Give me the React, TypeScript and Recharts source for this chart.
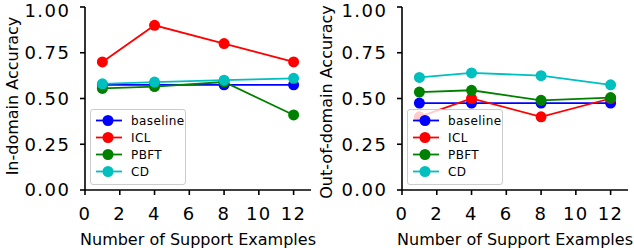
import React from 'react';
import { LineChart, Line, XAxis, YAxis, Legend, Label } from 'recharts';

const supportExamples = [1, 4, 8, 12];

// in-domain
const inBaseline = [0.575, 0.575, 0.575, 0.575];
const inICL = [0.70, 0.90, 0.80, 0.70];
const inPBFT = [0.555, 0.565, 0.59, 0.41];
const inCD = [0.58, 0.59, 0.60, 0.61];

// out-of-domain
const outBaseline = [0.475, 0.475, 0.475, 0.475];
const outICL = [0.40, 0.50, 0.40, 0.50];
const outPBFT = [0.535, 0.545, 0.49, 0.505];
const outCD = [0.615, 0.64, 0.625, 0.575];

const xTicks = [0, 2, 4, 6, 8, 10, 12];
const yTicks = [0, 0.25, 0.5, 0.75, 1];

const SERIES = [
  { key: 'baseline', color: '#0000ff' },
  { key: 'ICL', color: '#ff0000' },
  { key: 'PBFT', color: '#008000' },
  { key: 'CD', color: '#00bfbf' },
];

const FONT = 'DejaVu Sans, sans-serif';

const buildRows = (b: number[], i: number[], p: number[], c: number[]) =>
  supportExamples.map((x, idx) => ({ x, baseline: b[idx], ICL: i[idx], PBFT: p[idx], CD: c[idx] }));

const inRows = buildRows(inBaseline, inICL, inPBFT, inCD);
const outRows = buildRows(outBaseline, outICL, outPBFT, outCD);

const LegendBox = () => (
  <div style={{
    width: 94, height: 72, border: '1px solid #cccccc', borderRadius: 3,
    background: 'rgba(255,255,255,0.8)', fontFamily: FONT, fontSize: 12, paddingTop: 2, boxSizing: 'content-box'
  }}>
    {SERIES.map(s => (
      <div key={s.key} style={{ height: 17, display: 'flex', alignItems: 'center' }}>
        <svg width={40} height={17}>
          <line x1={5} x2={31} y1={8.5} y2={8.5} stroke={s.color} strokeWidth={1.8} />
          <circle cx={17} cy={8.5} r={5.5} fill={s.color} />
        </svg>
        <span style={{ color: '#000', letterSpacing: 0.4 }}>{s.key}</span>
      </div>
    ))}
  </div>
);

const YTitle = (text: string, cx: number, cy: number) => () => (
  <text x={cx} y={cy} transform={`rotate(-90, ${cx}, ${cy})`} textAnchor="middle"
    dominantBaseline="central" fontFamily={FONT} fontSize={16} fill="#000">{text}</text>
);

const tickStyle = { fill: '#000', fontSize: 18, fontFamily: FONT, letterSpacing: 1.5 };

const Panel = ({ rows, yTitle, titleX, titleY }: { rows: any[]; yTitle: string; titleX: number; titleY: number }) => (
  <LineChart width={317} height={248} data={rows} margin={{ top: 7, right: 6, bottom: 0, left: 0 }}>
    <XAxis dataKey="x" type="number" domain={[0, 13]} ticks={xTicks} height={58}
      stroke="#000" strokeWidth={1.6} tickSize={5} tickMargin={12}
      tick={tickStyle}>
      <Label value="Number of Support Examples" position="insideBottom" offset={3}
        style={{ fontFamily: FONT, fontSize: 16, fill: '#000' }} />
    </XAxis>
    <XAxis xAxisId="top" orientation="top" type="number" domain={[0, 13]} height={0}
      tick={false} tickLine={false} stroke="#000" strokeWidth={1.6} />
    <YAxis type="number" domain={[0, 1]} ticks={yTicks} width={85}
      stroke="#000" strokeWidth={1.6} tickSize={5} tickMargin={9.5}
      tickFormatter={(v: number) => v.toFixed(2)}
      tick={tickStyle}>
      <Label content={YTitle(yTitle, titleX, titleY)} />
    </YAxis>
    <YAxis yAxisId="right" orientation="right" type="number" domain={[0, 1]} width={0}
      tick={false} tickLine={false} stroke="#000" strokeWidth={1.6} />
    {SERIES.map(s => (
      <Line key={s.key} dataKey={s.key} stroke={s.color} strokeWidth={1.8}
        dot={{ r: 5.5, fill: s.color, stroke: s.color, strokeWidth: 0 }}
        activeDot={false} isAnimationActive={false} />
    ))}
    <Legend layout="vertical" align="center" verticalAlign="middle" content={<LegendBox />}
      wrapperStyle={{ left: 90, top: 109, width: 96, height: 74 }} />
  </LineChart>
);

export default function App() {
  return (
    <div style={{ position: 'absolute', left: 0, top: 0, width: 634, height: 248, background: '#fff' }}>
      <div style={{ position: 'absolute', left: 0, top: 0 }}>
        <Panel rows={inRows} yTitle="In-domain Accuracy" titleX={12} titleY={96} />
      </div>
      <div style={{ position: 'absolute', left: 317, top: 0 }}>
        <Panel rows={outRows} yTitle="Out-of-domain Accuracy" titleX={9} titleY={102} />
      </div>
    </div>
  );
}
